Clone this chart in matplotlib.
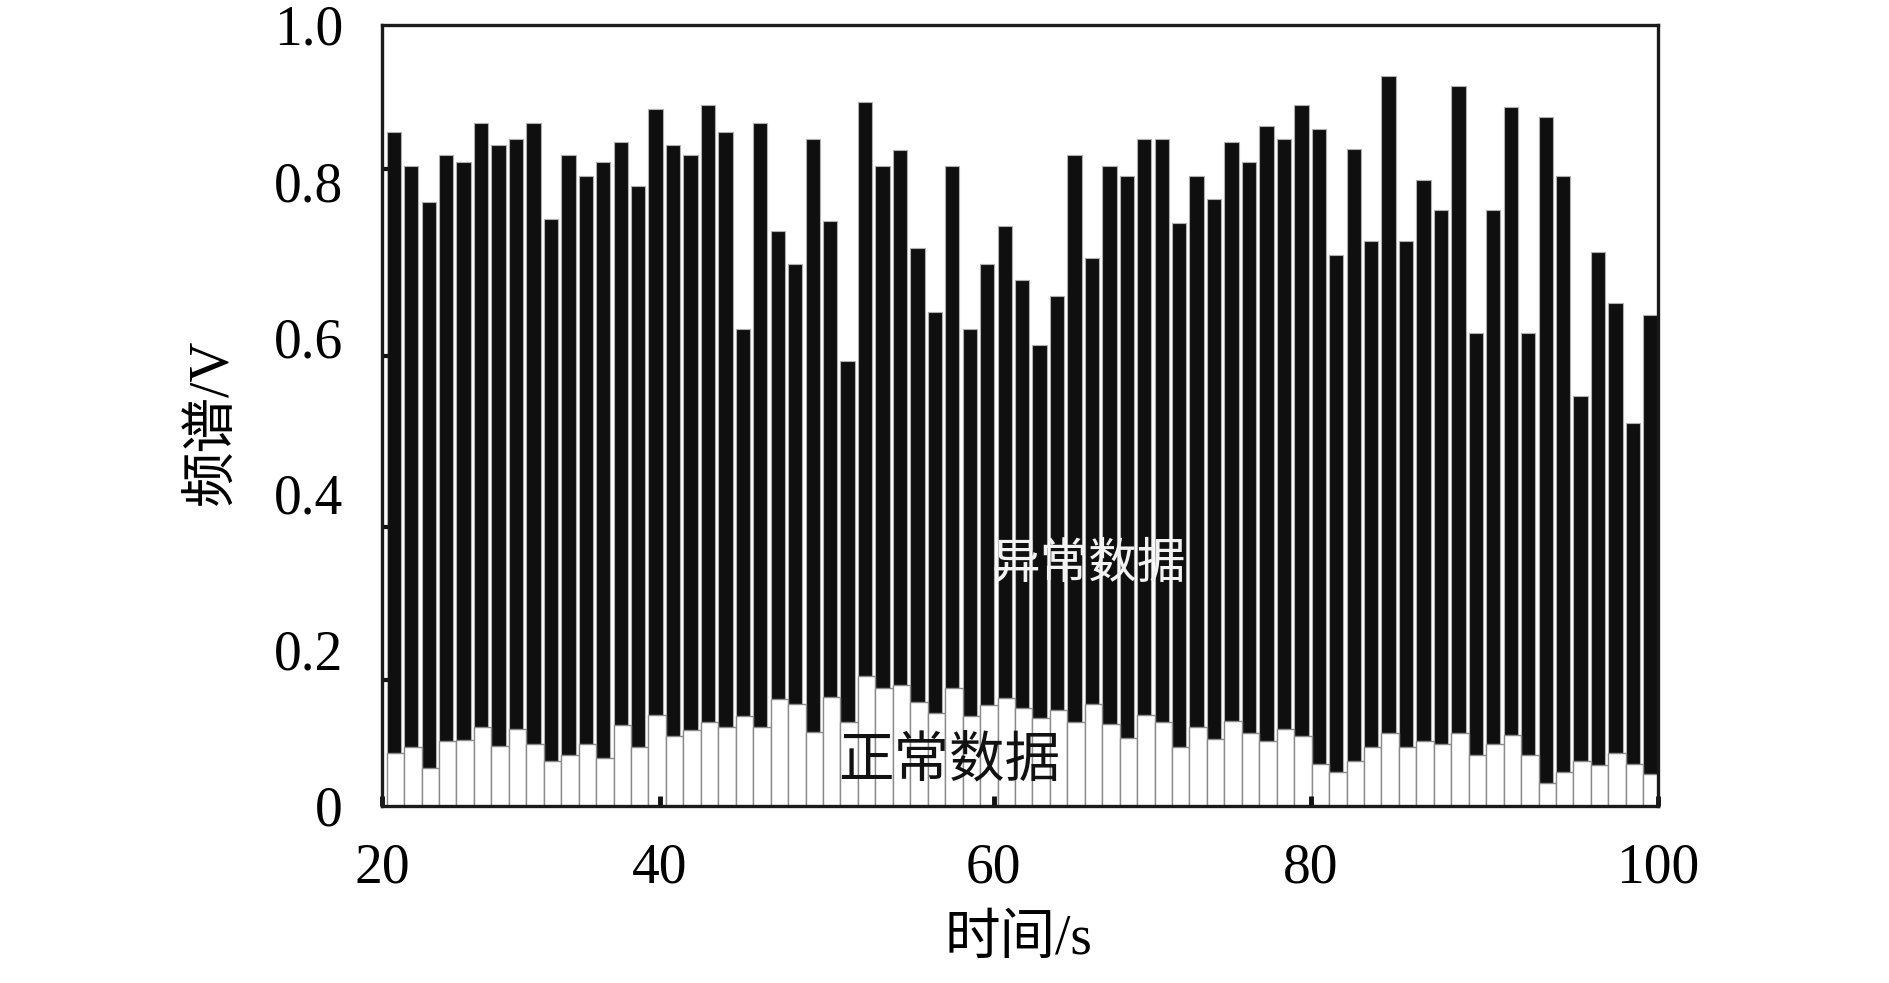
import matplotlib
matplotlib.use('Agg')
import matplotlib.pyplot as plt
import numpy as np

plt.rcParams['font.family'] = ['Liberation Serif', 'Noto Sans CJK SC']

# 频谱 total height of each bar (异常数据) and the white bottom part (正常数据)
total = [0.863, 0.820, 0.773, 0.833, 0.824, 0.875, 0.846, 0.854, 0.875, 0.752, 0.833,
         0.807, 0.824, 0.850, 0.794, 0.892, 0.846, 0.833, 0.897, 0.863, 0.611, 0.875,
         0.736, 0.694, 0.854, 0.749, 0.570, 0.902, 0.819, 0.840, 0.715, 0.632, 0.819,
         0.611, 0.694, 0.743, 0.674, 0.590, 0.653, 0.833, 0.701, 0.820, 0.807, 0.854,
         0.854, 0.747, 0.807, 0.777, 0.850, 0.824, 0.871, 0.854, 0.897, 0.867, 0.705,
         0.841, 0.723, 0.935, 0.723, 0.802, 0.763, 0.922, 0.605, 0.763, 0.895, 0.605,
         0.882, 0.807, 0.525, 0.709, 0.644, 0.490, 0.629]
normal = [0.068, 0.076, 0.048, 0.083, 0.084, 0.101, 0.077, 0.099, 0.079, 0.058, 0.065,
          0.079, 0.061, 0.104, 0.076, 0.117, 0.090, 0.097, 0.108, 0.101, 0.115, 0.101,
          0.137, 0.130, 0.095, 0.139, 0.108, 0.166, 0.151, 0.155, 0.133, 0.119, 0.151,
          0.115, 0.129, 0.138, 0.126, 0.112, 0.123, 0.108, 0.131, 0.105, 0.087, 0.117,
          0.108, 0.076, 0.101, 0.086, 0.109, 0.094, 0.083, 0.099, 0.090, 0.054, 0.043,
          0.058, 0.076, 0.094, 0.076, 0.083, 0.079, 0.093, 0.065, 0.079, 0.091, 0.065,
          0.029, 0.043, 0.058, 0.053, 0.068, 0.054, 0.041]

# time axis labels (ticks sit unevenly along the bar index in the original)
xtick_pos = [-0.27, 15.66, 34.78, 52.95, 72.84]
xtick_labels = ['20', '40', '60', '80', '100']
yticks = [0, 0.2, 0.4, 0.6, 0.8, 1.0]
ytick_labels = ['0', '0.2', '0.4', '0.6', '0.8', '1.0']
ytick_marks = [0.161, 0.357, 0.576, 0.816]

idx = np.arange(len(total))

fig = plt.figure(figsize=(18.9, 9.83), dpi=100)
ax = fig.add_axes([0.2021, 0.1801, 0.6751, 0.7945])

ax.bar(idx, total, width=0.82, align='edge', color='#0f0f0f',
       edgecolor='#b0b0b0', linewidth=0.8)
ax.bar(idx, normal, width=1.0, align='edge', color='white',
       edgecolor='#8a8a8a', linewidth=1.0)

ax.set_xlim(-0.27, 72.84)
ax.set_ylim(0, 1.0)

ax.set_xticks(xtick_pos)
ax.set_xticklabels(xtick_labels)
ax.set_yticks(yticks)
ax.set_yticklabels(ytick_labels)
ax.set_yticks(ytick_marks, minor=True)

ax.tick_params(axis='x', direction='in', length=7, width=3.5, pad=26,
               labelsize=40, color='#111111')
ax.tick_params(axis='y', which='major', length=0, pad=28, labelsize=40)
ax.tick_params(axis='y', which='minor', direction='in', length=4, width=3,
               color='#111111')

for s in ax.spines.values():
    s.set_linewidth(2.4)
    s.set_color('#1a1a1a')

ax.set_xlabel('时间/s', fontsize=40, va='center')
ax.xaxis.set_label_coords(0.499, -0.172)
ax.set_ylabel('频谱/V', fontsize=40, va='center')
ax.yaxis.set_label_coords(-0.132, 0.492)

ax.text(40.25, 0.309, '异常数据', color='#f2f2f2', fontsize=35,
        ha='center', va='center', fontweight='light')
ax.text(32.2, 0.056, '正常数据', color='#111111', fontsize=40,
        ha='center', va='center', fontweight='light')

fig.savefig('out.png', dpi=100)
